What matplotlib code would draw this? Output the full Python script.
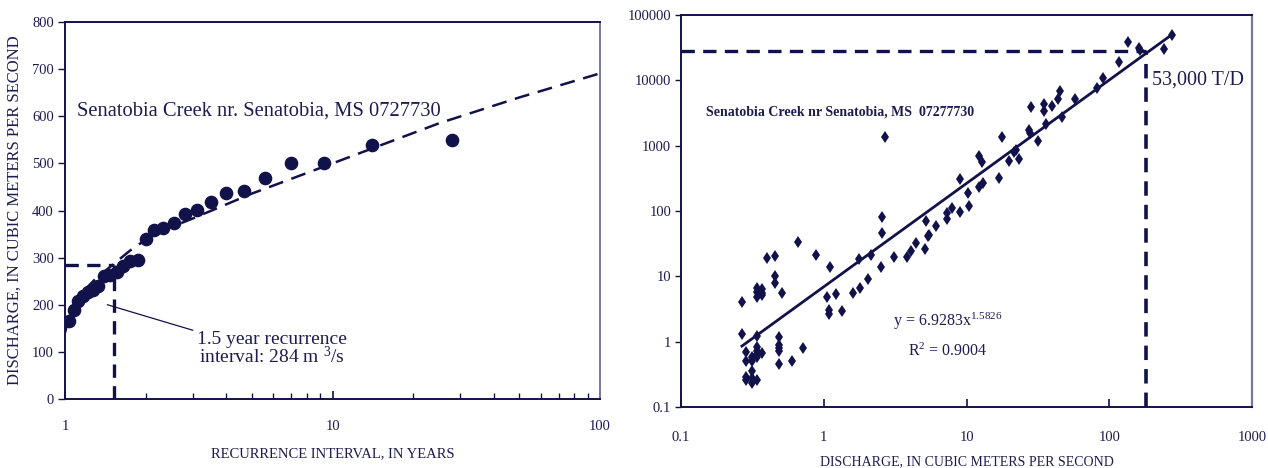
import numpy as np
import matplotlib
matplotlib.use("Agg")
import matplotlib.pyplot as plt
from matplotlib.ticker import FixedLocator, NullFormatter, FuncFormatter, NullLocator

plt.rcParams['font.family'] = ['Liberation Serif', 'DejaVu Serif']
plt.rcParams['mathtext.fontset'] = 'custom'
plt.rcParams['mathtext.rm'] = 'Liberation Serif'
plt.rcParams['mathtext.it'] = 'Liberation Serif:italic'

INK = '#12124a'
TXT = '#1c1c50'
EDGE_LIGHT = '#7878a2'

# ---- left panel: flood frequency ----
recurrence_yr = [28.0, 14.0, 9.33, 7.0, 5.6, 4.67, 4.0, 3.5, 3.11, 2.8, 2.55, 2.33, 2.15,
                 2.0, 1.87, 1.75, 1.65, 1.56, 1.47, 1.4, 1.33, 1.27, 1.22, 1.17, 1.12,
                 1.077, 1.037]
peak_q = [550, 539, 501, 501, 470, 442, 438, 419, 401, 393, 374, 363, 359,
          340, 296, 292, 283, 270, 264, 262, 240, 231, 228, 218, 207, 188, 165]

curve_T = [1.0, 1.05, 1.1, 1.2, 1.3, 1.5, 1.75, 2.0, 2.5, 3.0, 5.0, 10.0, 25.0, 50.0, 100.0]
curve_Q = [141, 190, 210, 235, 255, 284, 315, 338, 365, 383, 436, 500, 585, 640, 691]

t_15 = 1.52
q_15 = 284

# ---- right panel: sediment transport ----
discharge = [0.268, 0.268, 0.285, 0.285, 0.285, 0.285, 0.313, 0.313, 0.313, 0.313, 0.313,
             0.341, 0.341, 0.341, 0.341, 0.341, 0.341, 0.341, 0.341, 0.341,
             0.371, 0.371, 0.371, 0.371, 0.398, 0.456, 0.456, 0.456,
             0.484, 0.484, 0.484, 0.484, 0.484, 0.513, 0.597, 0.655, 0.712, 0.878,
             1.05, 1.08, 1.08, 1.11, 1.22, 1.34, 1.60, 1.77, 1.80, 2.05, 2.14,
             2.53, 2.56, 2.56, 2.70, 3.09, 3.85, 4.09, 4.45, 5.14, 5.20, 5.35, 5.49,
             6.08, 7.28, 7.30, 7.85, 8.93, 9.01, 10.2, 10.4, 12.3, 12.9, 12.2, 13.0,
             17.0, 17.7, 19.7, 21.4, 22.1, 23.3, 27.3, 27.9, 28.3, 31.9,
             35.1, 35.1, 35.9, 39.9, 43.5, 45.4, 46.7, 57.6, 81.7, 90.0,
             117.6, 135.3, 160.8, 164.2, 241.8, 273.8]
sediment = [4.10, 1.31, 0.695, 0.50, 0.288, 0.262, 0.589, 0.506, 0.356, 0.283, 0.233,
            6.53, 5.71, 4.84, 1.23, 0.821, 0.728, 0.648, 0.577, 0.261,
            6.30, 5.51, 5.19, 0.683, 18.8, 20.2, 10.2, 7.87,
            1.19, 0.890, 0.801, 0.728, 0.448, 5.57, 0.503, 33.9, 0.787, 21.4,
            4.75, 3.08, 2.64, 13.8, 5.41, 2.95, 5.53, 18.5, 6.60, 9.06, 21.4,
            13.8, 82.1, 46.7, 1350, 19.6, 20.0, 24.7, 32.5, 26.6, 70.5, 41.6, 43.4,
            59.8, 94.5, 74.9, 113, 307, 96.2, 191, 118, 705, 561, 230, 272,
            319, 1340, 585, 812, 853, 628, 1746, 1581, 3887, 1193,
            4366, 3447, 2157, 4113, 5153, 6833, 2790, 5153, 7598, 11040,
            19000, 38460, 31790, 29310, 30370, 49230]

fit_a = 6.9283
fit_b = 1.5826
fit_range = (0.267, 274)
mark_q = 181
mark_load = 28300

fig = plt.figure(figsize=(12.68, 4.68), dpi=100)

# ================= left =================
ax1 = fig.add_axes([0.0513, 0.1474, 0.4219, 0.8056])
ax1.set_xscale('log')
ax1.set_xlim(1, 100)
ax1.set_ylim(0, 800)

ax1.plot(curve_T, curve_Q, color=INK, lw=1.8, dashes=(6, 3.5), zorder=2)
ax1.plot(recurrence_yr, peak_q, 'o', color=INK, ms=8.8, zorder=3)
ax1.plot([1, t_15], [q_15, q_15], color=INK, lw=2.4, dashes=(4, 2.5), zorder=2)
ax1.plot([t_15, t_15], [0, q_15], color=INK, lw=2.4, dashes=(4, 2.5), zorder=2)
ax1.plot([1.44, 3.0], [200, 146], color=INK, lw=0.9)

ax1.text(1.109, 610, 'Senatobia Creek nr. Senatobia, MS 0727730', fontsize=14.8,
         color=TXT, va='center', ha='left')
ax1.text(5.94, 106, '1.5 year recurrence\ninterval: 284 m $^3$/s', fontsize=14,
         color=TXT, va='center', ha='center', multialignment='center',
         linespacing=0.92)

ax1.xaxis.set_major_locator(FixedLocator([1, 10, 100]))
ax1.xaxis.set_major_formatter(FuncFormatter(lambda v, p: '%g' % v))
ax1.xaxis.set_minor_locator(FixedLocator([k * d for d in (1, 10) for k in range(2, 10)]))
ax1.xaxis.set_minor_formatter(NullFormatter())
ax1.yaxis.set_major_locator(FixedLocator(range(0, 801, 100)))
ax1.tick_params(axis='x', which='both', direction='in', colors=INK, labelcolor=TXT,
                labelsize=10.5, pad=15)
ax1.tick_params(axis='x', which='major', length=6, width=1.2)
ax1.tick_params(axis='x', which='minor', length=4, width=1.0)
ax1.tick_params(axis='y', direction='out', length=5, width=1.0, colors=INK,
                labelcolor=TXT, labelsize=10.5, pad=3)
for side in ('left', 'bottom', 'top'):
    ax1.spines[side].set_color(INK)
    ax1.spines[side].set_linewidth(1.4)
ax1.spines['right'].set_color(EDGE_LIGHT)
ax1.spines['right'].set_linewidth(1.4)
ax1.set_xlabel('RECURRENCE INTERVAL, IN YEARS', fontsize=10.5, color=TXT, labelpad=10)
ax1.set_ylabel('DISCHARGE, IN CUBIC METERS PER SECOND', fontsize=12, color=TXT, labelpad=7)

# ================= right =================
ax2 = fig.add_axes([0.5371, 0.1303, 0.4503, 0.8376])
ax2.set_xscale('log')
ax2.set_yscale('log')
ax2.set_xlim(0.1, 1000)
ax2.set_ylim(0.1, 100000)

fit_x = np.geomspace(fit_range[0], fit_range[1], 60)
ax2.plot(fit_x, fit_a * fit_x ** fit_b, color=INK, lw=2.0, zorder=2)
ax2.plot(discharge, sediment, 'd', color=INK, ms=6, mew=0, zorder=3)
ax2.plot([0.1, mark_q], [mark_load, mark_load], color=INK, lw=2.4, dashes=(4, 2.5))
ax2.plot([mark_q, mark_q], [0.1, mark_load], color=INK, lw=2.6, dashes=(4, 2.5))

ax2.text(0.15, 3293, 'Senatobia Creek nr Senatobia, MS  07277730', fontsize=10,
         fontweight='bold', color=TXT, va='center', ha='left')
ax2.text(3.05, 2.07, 'y = 6.9283x$^{1.5826}$', fontsize=11.5, color=TXT,
         va='center', ha='left')
ax2.text(3.89, 0.72, 'R$^2$ = 0.9004', fontsize=11.5, color=TXT, va='center', ha='left')
ax2.text(199, 10180, '53,000 T/D', fontsize=14.5, color=TXT, va='center', ha='left')

ax2.xaxis.set_major_locator(FixedLocator([0.1, 1, 10, 100, 1000]))
ax2.xaxis.set_minor_locator(NullLocator())
ax2.yaxis.set_major_locator(FixedLocator([0.1, 1, 10, 100, 1000, 10000, 100000]))
ax2.yaxis.set_minor_locator(NullLocator())
fmt = FuncFormatter(lambda v, p: '%g' % v if v < 1e5 else '100000')
ax2.xaxis.set_major_formatter(fmt)
ax2.yaxis.set_major_formatter(fmt)
ax2.tick_params(axis='x', direction='in', length=6, width=1.2, colors=INK,
                labelcolor=TXT, labelsize=10.5, pad=17)
ax2.tick_params(axis='y', direction='out', length=4, width=1.0, colors=INK,
                labelcolor=TXT, labelsize=10.5, pad=3)
for side in ('left', 'bottom', 'top'):
    ax2.spines[side].set_color(INK)
    ax2.spines[side].set_linewidth(1.4)
ax2.spines['right'].set_color(EDGE_LIGHT)
ax2.spines['right'].set_linewidth(1.6)
ax2.set_xlabel('DISCHARGE, IN CUBIC METERS PER SECOND', fontsize=10, color=TXT, labelpad=8)

fig.savefig('out.png', dpi=100)
